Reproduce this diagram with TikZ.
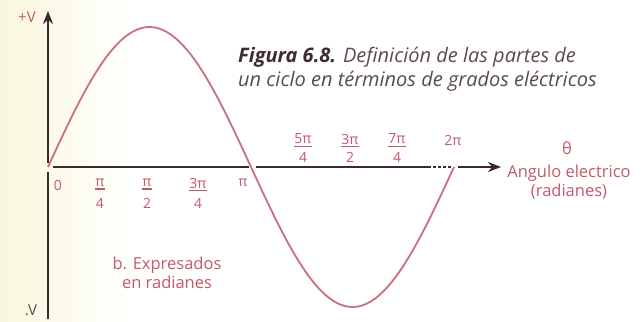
\documentclass[tikz,border=0pt]{standalone}
\usepackage{fontspec}
\setmainfont{Open Sans}
\usetikzlibrary{arrows.meta}
\definecolor{axiscol}{HTML}{3A2A2C}
\definecolor{wavecol}{HTML}{C9707C}
\definecolor{labcol}{HTML}{C25A6A}
\definecolor{capdark}{HTML}{3E2C2E}
\definecolor{capcol}{HTML}{5C4A4C}
\definecolor{glow}{HTML}{FAF7DC}
\tikzset{
  axisline/.style={draw=axiscol, line width=2.2pt},
  wave/.style={draw=wavecol, line width=1.8pt},
  ticklab/.style={text=labcol, font=\fontsize{14}{14}\selectfont, inner sep=0pt},
  fracbar/.style={draw=labcol, line width=1.2pt},
  lab/.style={text=labcol, font=\fontsize{16.5}{19}\selectfont, inner sep=0pt, align=center},
  captext/.style={text=capcol, font=\fontsize{20}{24}\selectfont\itshape, inner sep=0pt, anchor=west},
}
\begin{document}
\begin{tikzpicture}[x=1pt,y=-1pt]
\useasboundingbox (0,0) rectangle (644,321);
\fill[white] (0,0) rectangle (644,321);
\shade[left color=glow, right color=white] (0,0) rectangle (130,321);
% axes
\coordinate (vb) at (48,319);
\coordinate (vm1) at (48,172);
\coordinate (vm2) at (48,163);
\coordinate (vt) at (48,11);
\coordinate (h0) at (53,167);
\coordinate (h1) at (249,167);
\coordinate (h2) at (256,167);
\coordinate (h3) at (428,167);
\coordinate (h4) at (451,167);
\coordinate (h5) at (458,167);
\coordinate (h6) at (501,167);
\draw[axisline] (vb) -- (vm1);
\draw[axisline, -{Stealth[length=13pt,width=10pt]}] (vm2) -- (vt);
\draw[axisline] (h0) -- (h1);
\draw[axisline] (h2) -- (h3);
\draw[axisline, line width=1.6pt, dash pattern=on 3pt off 2pt] (h3) -- (h4);
\draw[axisline, line width=1.8pt, -{Stealth[length=13pt,width=10pt]}] (h5) -- (h6);
% wave
\draw[wave] plot[domain=0:360, samples=120, smooth] ({48+\x*1.127778},{167-140*sin(\x)});
% labels
\node[text=labcol, font=\fontsize{15}{15}\selectfont, inner sep=0pt] (pv) at (27,17) {+V};
\node[text=capcol, font=\fontsize{15}{15}\selectfont, inner sep=0pt] (mv) at (31,310) {.V};
\node[ticklab] (t0) at (58,185) {0};
\node[ticklab] (t4) at (243,183) {π};
\node[ticklab] (t8) at (453,140) {2π};
% fractions: name / x / numerator y / denominator y / numerator / denominator
\foreach \n/\px/\ny/\dy/\num/\den in {f1/100/183/203/π/4, f2/147/183/203/π/2, f3/198/183/203/3π/4,
    f5/303/139/157/5π/4, f6/350/139/157/3π/2, f7/397/139/157/7π/4}{
  \node[ticklab] (\n n) at (\px,\ny) {\num};
  \node[ticklab] (\n d) at (\px,\dy) {\den};
  \draw[fracbar] ([yshift=-2pt]\n n.south west) -- ([yshift=-2pt]\n n.south east);
}
\node[lab] (th) at (567,148) {θ};
\node[lab] (ang) at (569,182) {Angulo electrico\\(radianes)};
\node[lab] (expr) at (167,273) {b. Expresados\\en radianes};
\node[captext] (c1) at (238,57) {{\bfseries\color{capdark}Figura 6.8.} Definición de las partes de};
\node[captext] (c2) at (238,81) {un ciclo en términos de grados eléctricos};
\end{tikzpicture}
\end{document}
